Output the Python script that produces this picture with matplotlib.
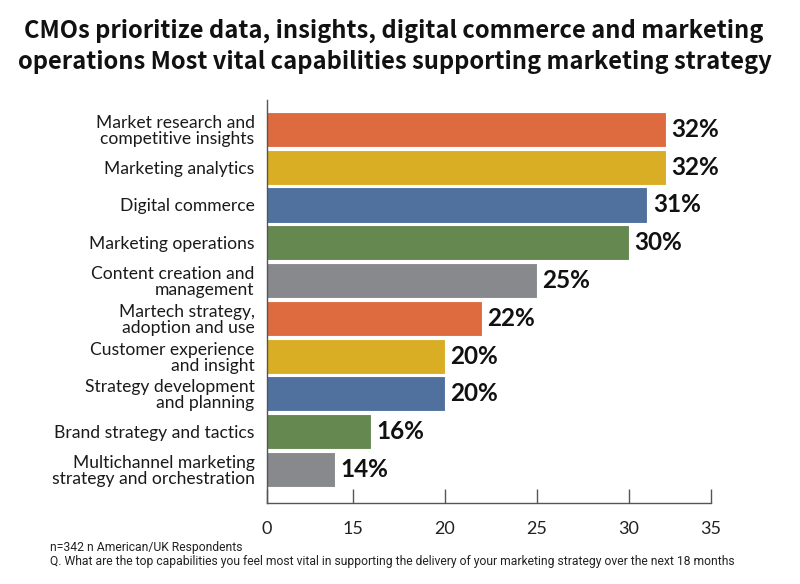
import matplotlib
matplotlib.use("Agg")
import matplotlib.pyplot as plt

categories = [
    "Market research and\ncompetitive insights",
    "Marketing analytics",
    "Digital commerce",
    "Marketing operations",
    "Content creation and\nmanagement",
    "Martech strategy,\nadoption and use",
    "Customer experience\nand insight",
    "Strategy development\nand planning",
    "Brand strategy and tactics",
    "Multichannel marketing\nstrategy and orchestration",
]
values = [32, 32, 31, 30, 25, 22, 20, 20, 16, 14]
value_labels = ["32%", "32%", "31%", "30%", "25%", "22%", "20%", "20%", "16%", "14%"]
colors = ["#DE6B3F", "#D9AE25", "#50719E", "#658850", "#88898D",
          "#DE6B3F", "#D9AE25", "#50719E", "#658850", "#88898D"]
tick_values = [10.33, 15, 20, 25, 30, 34.46]
tick_labels = ["0", "15", "20", "25", "30", "35"]

W, H = 800, 584
fig = plt.figure(figsize=(W / 100, H / 100), dpi=100)
ax = fig.add_axes([267 / W, 1 - 503 / H, (711 - 267) / W, (503 - 100) / H])

y = list(range(len(categories)))
ax.barh(y, values, height=0.93, color=colors, edgecolor="white", linewidth=0.8)
ax.set_xlim(tick_values[0], tick_values[-1])
ax.set_ylim(9.89, -0.78)

ax.set_xticks(tick_values)
ax.set_xticklabels(tick_labels, fontsize=13, family="Lato", color="#222222")
ax.tick_params(axis="x", direction="in", length=10, width=1, color="#555555", pad=13)
ax.set_yticks(y)
ax.set_yticklabels(categories, fontsize=12.6, family="Lato", color="#1a1a1a", linespacing=1.0)
ax.tick_params(axis="y", length=0, pad=9)

for s in ["top", "right"]:
    ax.spines[s].set_visible(False)
ax.spines["left"].set_color("#555555")
ax.spines["bottom"].set_color("#555555")
ax.spines["left"].set_linewidth(1)
ax.spines["bottom"].set_linewidth(1)

for yi, v, lab in zip(y, values, value_labels):
    ax.annotate(lab, (v, yi), xytext=(4, 0), textcoords="offset points",
                va="center", ha="left", fontsize=17.5, fontweight="bold",
                family="Lato", color="#111111")

fig.text(0.492, 1 - 31 / H, "CMOs prioritize data, insights, digital commerce and marketing",
         ha="center", va="center", fontsize=17.1, fontweight="bold",
         family=["Noto Sans CJK SC", "DejaVu Sans"], color="#111111")
fig.text(0.494, 1 - 62 / H, "operations Most vital capabilities supporting marketing strategy",
         ha="center", va="center", fontsize=17.1, fontweight="bold",
         family=["Noto Sans CJK SC", "DejaVu Sans"], color="#111111")

fig.text(50 / W, 1 - 548 / H, "n=342 n American/UK Respondents",
         ha="left", va="center", fontsize=8.7, family=["Liberation Sans Narrow", "Roboto"],
         color="#222222")
fig.text(50 / W, 1 - 562 / H,
         "Q. What are the top capabilities you feel most vital in supporting the delivery of your marketing strategy over the next 18 months",
         ha="left", va="center", fontsize=8.7, family=["Liberation Sans Narrow", "Roboto"],
         color="#222222")

fig.savefig("out.png", dpi=100)
